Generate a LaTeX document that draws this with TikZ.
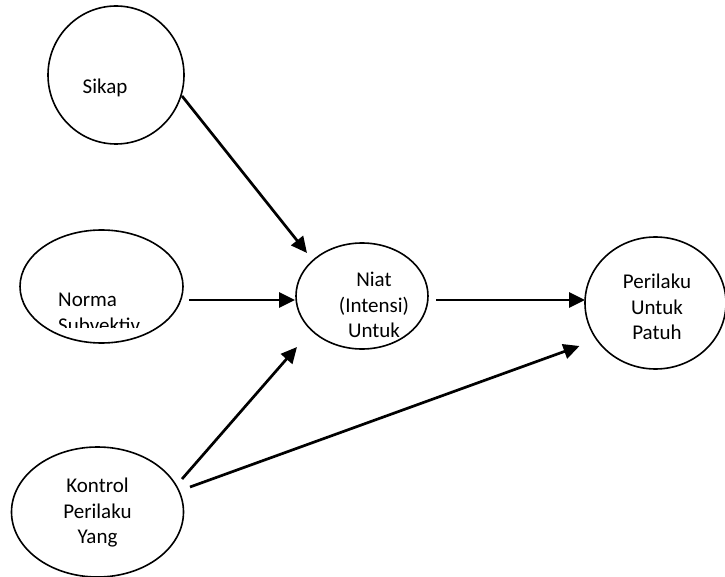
\documentclass[tikz,border=0pt]{standalone}
\usepackage{fontspec}
\setmainfont{Carlito}
\usetikzlibrary{shapes.geometric,arrows.meta}

\begin{document}
\begin{tikzpicture}[x=1pt,y=-1pt,
  bubble/.style={ellipse,draw,line width=1.6pt,inner sep=0pt,outer sep=0pt},
  label/.style={inner sep=0pt,align=center,font=\fontsize{21}{25.5}\selectfont},
  link/.style={line width=2.7pt,-{Triangle[length=16pt,width=15pt]}}]
  \useasboundingbox (0,0) rectangle (725,577);

  % the five constructs
  \node[bubble,minimum width=136pt,minimum height=138pt] (sikap)    at (116,75)    {};
  \node[bubble,minimum width=163pt,minimum height=113pt] (norma)    at (101.5,286.5) {};
  \node[bubble,minimum width=132pt,minimum height=106pt] (niat)     at (362,296)   {};
  \node[bubble,minimum width=141pt,minimum height=132pt] (perilaku) at (655.5,303) {};
  \node[bubble,minimum width=172pt,minimum height=130pt] (kontrol)  at (97.5,512)  {};

  % their captions
  \node[label] (tsikap) at (105,88) {Sikap};
  \begin{scope}
    \clip (0,0) rectangle (725,327.5);
    \node[label,align=left,anchor=west] (tnorma) at (58,313) {Norma\\Subvektiv};
  \end{scope}
  \node[label] (tniat) at (374,305) {Niat\\(Intensi)\\Untuk};
  \node[label] (tperilaku) at (657,307) {Perilaku\\Untuk\\Patuh};
  \node[label] (tkontrol) at (97.5,513) {Kontrol\\Perilaku\\Yang};

  % influences
  \draw[link] ([shift={(66,21)}]sikap.center) -- ([shift={(-55,-43)}]niat.center);
  \draw[link] ([shift={(87.5,13.5)}]norma.center) -- ([shift={(-67,4)}]niat.center);
  \draw[link] ([shift={(74,4)}]niat.center) -- ([shift={(-70.5,-3)}]perilaku.center);
  \draw[link] ([shift={(84.5,-33)}]kontrol.center) -- ([shift={(-65,51)}]niat.center);
  \draw[link] ([shift={(92.5,-25)}]kontrol.center) -- ([shift={(-76,43)}]perilaku.center);
\end{tikzpicture}
\end{document}
